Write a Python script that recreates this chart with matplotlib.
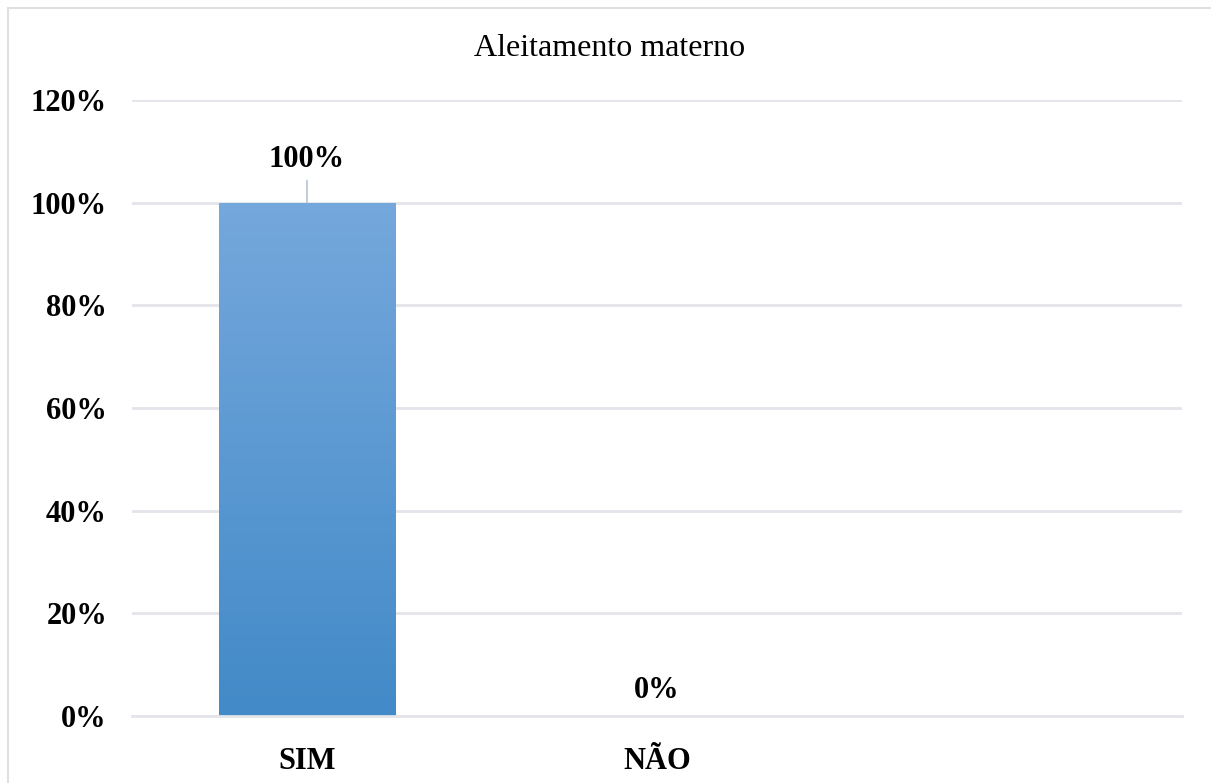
import matplotlib.pyplot as plt
import numpy as np
from matplotlib.lines import Line2D

# Data
categories = ['SIM', 'NÃO', '']
values = [1.00, 0.00, np.nan]
value_labels = ['100%', '0%', '']
yticks = [0, 0.2, 0.4, 0.6, 0.8, 1.0, 1.2]
ytick_labels = ['0%', '20%', '40%', '60%', '80%', '100%', '120%']

plt.rcParams['font.family'] = ['Liberation Serif', 'DejaVu Serif']

W, H = 1211, 783
fig = plt.figure(figsize=(W / 100, H / 100), dpi=100)
ax = fig.add_axes([132 / W, 1 - 716 / H, (1182 - 132) / W, (716 - 100) / H])

x = np.arange(len(categories))
bars = ax.bar(x, np.nan_to_num(values), width=0.503, color='none', zorder=2)

# gradient fill for the bars
grad = np.linspace(0, 1, 256).reshape(-1, 1)
top_c = np.array([117, 168, 220]) / 255
bot_c = np.array([66, 138, 200]) / 255
img = bot_c + (top_c - bot_c) * grad[:, :, None]
for b in bars:
    if b.get_height() > 0:
        x0, y0 = b.get_x(), b.get_y()
        im = ax.imshow(img, extent=[x0, x0 + b.get_width(), y0, y0 + b.get_height()],
                       origin='lower', aspect='auto', zorder=2)
        im.set_clip_path(b)

ax.set_xlim(-0.5, 2.5)
ax.set_ylim(0, 1.2)

# data labels
for xi, v, lab in zip(x, values, value_labels):
    if not lab:
        continue
    if v > 0:
        ax.annotate(lab, xy=(xi, v), xytext=(xi, v + 0.085), ha='center', va='center',
                    fontsize=22, fontweight='bold', zorder=4,
                    arrowprops=dict(arrowstyle='-', color='#B4C4D6', lw=1.2, shrinkA=3, shrinkB=0))
    else:
        ax.text(xi, v + 0.05, lab, ha='center', va='center', fontsize=22, fontweight='bold')

ax.set_yticks(yticks)
ax.set_yticklabels(ytick_labels, fontsize=22, fontweight='bold')
ax.set_xticks(x)
ax.set_xticklabels(categories, fontsize=22, fontweight='bold')
ax.tick_params(axis='y', length=0, pad=18)
ax.tick_params(axis='x', length=0, pad=22)

ax.grid(axis='y', color='#E3E5EA', lw=2, zorder=0)
ax.set_axisbelow(True)
for s in ['top', 'right', 'left']:
    ax.spines[s].set_visible(False)
ax.spines['bottom'].set_color('#E3E5EA')
ax.spines['bottom'].set_linewidth(2)

fig.text(610 / W, 1 - 48 / H, 'Aleitamento materno', ha='center', va='center', fontsize=23)

# outer chart border (left and top visible)
fig.add_artist(Line2D([8 / W, 8 / W], [0, 1 - 8 / H], transform=fig.transFigure, color='#E0E0E0', lw=1.5))
fig.add_artist(Line2D([8 / W, 1], [1 - 8 / H, 1 - 8 / H], transform=fig.transFigure, color='#E0E0E0', lw=1.5))

fig.savefig('out.png', dpi=100)
